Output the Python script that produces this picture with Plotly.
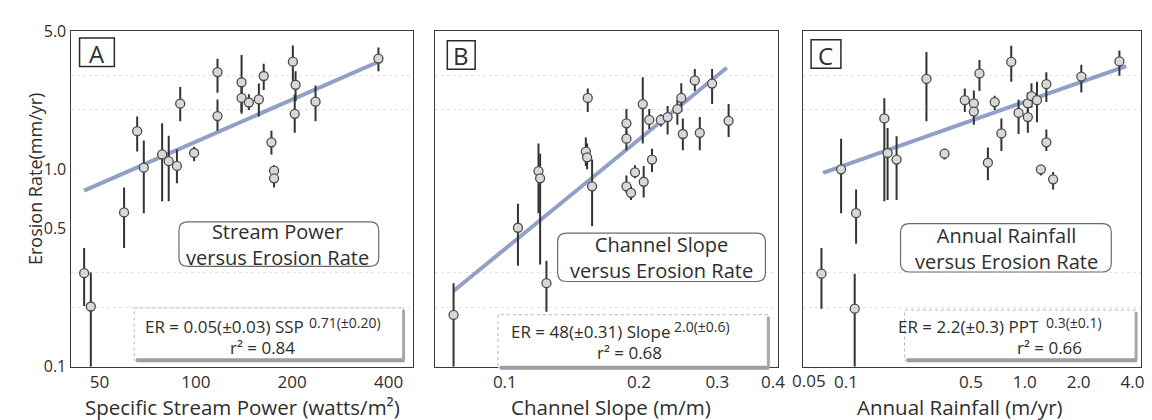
import plotly.graph_objects as go
import numpy as np

W, H = 1152, 420

# ---------------- Panel A: specific stream power ----------------
A_ssp = [65.6, 68.8, 78.5, 82.3, 87.3, 89.4, 98.8, 116.9, 116.9, 139, 139, 146.5, 157.4, 163,
         172.3, 175.6, 175.6, 201, 205, 203.7, 236.6, 372, 59.7, 44.8, 47.0]
A_er = [1.56, 1.02, 1.19, 1.10, 1.04, 2.15, 1.21, 3.11, 1.86, 2.76, 2.30, 2.18, 2.26, 2.97,
        1.37, 0.985, 0.90, 3.51, 2.68, 1.91, 2.20, 3.64, 0.605, 0.298, 0.202]
A_hi = [1.85, 1.40, 1.71, 1.48, 1.26, 2.61, 1.30, 3.63, 2.26, 3.79, 2.76, 2.40, 2.72, 3.43,
        1.57, 1.05, 1.02, 4.24, 3.14, 2.39, 2.66, 4.14, 0.81, 0.40, 0.30]
A_lo = [1.23, 0.60, 0.69, 0.69, 0.85, 1.75, 1.10, 2.44, 1.57, 1.91, 1.95, 2.00, 1.85, 2.52,
        1.19, 0.95, 0.81, 2.75, 2.21, 1.53, 1.75, 3.14, 0.40, 0.203, 0.10]
A_fit_x = [44.8, 383]
A_fit_y = [0.78, 3.58]

# ---------------- Panel B: channel slope ----------------
B_slope = [0.1535, 0.152, 0.153, 0.119, 0.120, 0.157, 0.107, 0.124, 0.0767, 0.1875, 0.1875,
           0.1875, 0.192, 0.196, 0.204, 0.205, 0.211, 0.214, 0.224, 0.232, 0.244, 0.249,
           0.251, 0.267, 0.274, 0.292, 0.318]
B_er = [2.30, 1.23, 1.15, 0.98, 0.90, 0.82, 0.506, 0.265, 0.183, 1.71, 1.43,
        0.82, 0.76, 0.966, 2.14, 0.865, 1.78, 1.12, 1.78, 1.84, 2.02, 2.30,
        1.51, 2.82, 1.53, 2.72, 1.76]
B_hi = [2.57, 1.45, 1.35, 1.35, 1.20, 1.12, 0.67, 0.344, 0.265, 2.02, 1.56,
        0.93, 0.82, 1.05, 2.93, 1.04, 2.02, 1.27, 1.90, 2.09, 2.24, 2.73,
        1.81, 3.22, 1.84, 3.22, 2.14]
B_lo = [1.95, 1.04, 1.00, 0.60, 0.33, 0.515, 0.325, 0.19, 0.10, 1.51, 1.25,
        0.76, 0.70, 0.90, 1.35, 0.72, 1.60, 0.97, 1.65, 1.50, 1.68, 1.95,
        1.25, 2.49, 1.25, 2.14, 1.46]
B_fit_x = [0.0767, 0.315]
B_fit_y = [0.242, 3.27]

# ---------------- Panel C: annual rainfall ----------------
C_ppt = [0.094, 0.073, 0.114, 0.112, 0.164, 0.171, 0.192, 0.282, 0.356, 0.462, 0.519, 0.519,
         0.558, 0.622, 0.679, 0.740, 0.840, 0.923, 1.04, 1.04, 1.09, 1.17, 1.32, 1.32, 1.23,
         1.44, 2.07, 3.38]
C_er = [1.00, 0.296, 0.60, 0.197, 1.81, 1.21, 1.12, 2.87, 1.20, 2.24, 2.16, 1.96,
        3.06, 1.08, 2.19, 1.52, 3.50, 1.93, 2.16, 1.84, 2.35, 2.24, 2.70, 1.37, 1.00,
        0.89, 2.95, 3.52]
C_hi = [1.43, 0.40, 0.79, 0.296, 2.29, 1.62, 1.47, 3.93, 1.27, 2.57, 2.51, 2.10,
        3.58, 1.29, 2.36, 1.81, 4.23, 2.25, 2.45, 2.00, 2.73, 2.78, 3.10, 1.59, 1.05,
        0.97, 3.39, 4.00]
C_lo = [0.60, 0.197, 0.42, 0.10, 0.69, 0.70, 0.70, 1.75, 1.12, 1.95, 1.90, 1.68,
        2.49, 0.88, 2.00, 1.24, 2.78, 1.51, 1.95, 1.53, 2.05, 1.73, 2.19, 1.24, 0.93,
        0.79, 2.45, 2.98]
C_fit_x = [0.0745, 3.69]
C_fit_y = [0.96, 3.33]

# ticks
Y_ticks = [0.1, 0.5, 1.0, 5.0]
Y_ticktext = ["0.1", "0.5", "1.0", "5.0"]
A_ticks = [50, 100, 200, 400]
A_ticktext = ["50", "100", "200", "400"]
B_ticks = [0.1, 0.2, 0.3, 0.4]
B_ticktext = ["0.1", "0.2", "0.3", "0.4"]
C_ticks = [0.1, 0.5, 1.0, 2.0, 4.0]
C_ticktext = ["0.1", "0.5", "1.0", "2.0", "4.0"]

FONT = "Open Sans"
TXT = "#2e2e2e"
LINE_COL = "#8496c2"
MK_FILL = "#d8d8d8"
MK_EDGE = "#4a4a4a"


def px(x):
    return x / W


def py(y):
    return 1 - y / H


fig = go.Figure()

panels = [
    ("x", "y", A_ssp, A_er, A_hi, A_lo, A_fit_x, A_fit_y),
    ("x2", "y2", B_slope, B_er, B_hi, B_lo, B_fit_x, B_fit_y),
    ("x3", "y3", C_ppt, C_er, C_hi, C_lo, C_fit_x, C_fit_y),
]
for xa, ya, xs, ys, hi, lo, fx, fy in panels:
    ys_a = np.array(ys)
    fig.add_trace(go.Scatter(x=fx, y=fy, mode="lines", xaxis=xa, yaxis=ya,
                             line=dict(color=LINE_COL, width=4), opacity=0.9,
                             showlegend=False, hoverinfo="skip"))
    fig.add_trace(go.Scatter(
        x=xs, y=ys, mode="markers", xaxis=xa, yaxis=ya, showlegend=False,
        marker=dict(size=9, color=MK_FILL, line=dict(color=MK_EDGE, width=1.3)),
        error_y=dict(type="data", symmetric=False,
                     array=list(np.array(hi) - ys_a),
                     arrayminus=list(ys_a - np.array(lo)),
                     color="#333333", thickness=2, width=0),
    ))

# domains (pixels)
ytop, ybot = 13, 367
doms = {"": (63, 407), "2": (430, 775), "3": (800, 1140)}
xranges = {"": (1.609, 2.677), "2": (-1.156, -0.386), "3": (-1.239, 0.650)}
xticks = {"": (A_ticks, A_ticktext), "2": (B_ticks, B_ticktext), "3": (C_ticks, C_ticktext)}

axis_common = dict(showline=True, mirror=True, linecolor="#3a3a3a", linewidth=1.3,
                   ticks="", zeroline=False, showgrid=False,
                   tickfont=dict(family=FONT, size=17, color=TXT))
layout = {}
for k in ["", "2", "3"]:
    d0, d1 = doms[k]
    tv, tt = xticks[k]
    layout["xaxis" + k] = dict(axis_common, type="log", domain=[px(d0), px(d1)],
                               range=list(xranges[k]), tickvals=tv, ticktext=tt,
                               anchor="y" + k, ticklabelstandoff=0)
    layout["yaxis" + k] = dict(axis_common, type="log", domain=[py(ybot), py(ytop)],
                               range=[-1, np.log10(5.0)], tickvals=Y_ticks,
                               ticktext=Y_ticktext, anchor="x" + k,
                               showticklabels=(k == ""),
                               tickfont=dict(family=FONT, size=16, color=TXT),
                               minor=dict(tickvals=[0.2, 0.3, 2, 3], showgrid=True,
                                          gridcolor="#e4e4e4", griddash="dot", gridwidth=1))

shapes = []
annotations = []


def rrect(x0, y0, x1, y1, r=9):
    rx, ry = r, r
    pts = [
        f"M {px(x0 + rx)},{py(y0)}", f"L {px(x1 - rx)},{py(y0)}",
        f"Q {px(x1)},{py(y0)} {px(x1)},{py(y0 + ry)}", f"L {px(x1)},{py(y1 - ry)}",
        f"Q {px(x1)},{py(y1)} {px(x1 - rx)},{py(y1)}", f"L {px(x0 + rx)},{py(y1)}",
        f"Q {px(x0)},{py(y1)} {px(x0)},{py(y1 - ry)}", f"L {px(x0)},{py(y0 + ry)}",
        f"Q {px(x0)},{py(y0)} {px(x0 + rx)},{py(y0)}", "Z",
    ]
    return dict(type="path", path=" ".join(pts), xref="paper", yref="paper",
                fillcolor="white", line=dict(color="#6a6a6a", width=1.2), layer="above")


def eqbox(x0, y0, x1, y1):
    shapes.append(dict(type="rect", xref="paper", yref="paper", x0=px(x0), x1=px(x1),
                       y0=py(y1), y1=py(y0), fillcolor="white",
                       line=dict(color="#b5b5b5", width=1, dash="dot"), layer="above"))
    shapes.append(dict(type="line", xref="paper", yref="paper", x0=px(x0 + 2), x1=px(x1 + 1),
                       y0=py(y1), y1=py(y1), line=dict(color="#9d9d9d", width=4), layer="above"))
    shapes.append(dict(type="line", xref="paper", yref="paper", x0=px(x1), x1=px(x1),
                       y0=py(y0 + 2), y1=py(y1), line=dict(color="#a8a8a8", width=3), layer="above"))


def letterbox(x0, y0, x1, y1, letter):
    shapes.append(dict(type="rect", xref="paper", yref="paper", x0=px(x0), x1=px(x1),
                       y0=py(y1), y1=py(y0), fillcolor="white",
                       line=dict(color="#2a2a2a", width=1.5), layer="above"))
    annotations.append(dict(text=letter, xref="paper", yref="paper", x=px((x0 + x1) / 2),
                            y=py((y0 + y1) / 2 + 1), xanchor="center", yanchor="middle",
                            showarrow=False, font=dict(family=FONT, size=24, color=TXT)))


def text(t, x, y, size, anchor="center", angle=0):
    annotations.append(dict(text=t, xref="paper", yref="paper", x=px(x), y=py(y),
                            xanchor=anchor, yanchor="middle", showarrow=False, align="center",
                            textangle=angle, borderpad=0,
                            font=dict(family=FONT, size=size, color=TXT)))


# panel letters
letterbox(72, 20, 107, 50, "A")
letterbox(442, 23, 470, 53, "B")
letterbox(808, 22, 838, 52, "C")

# title boxes
shapes.append(rrect(172, 214, 373, 261))
text("Stream Power<br>versus Erosion Rate", 271, 238, 20)
shapes.append(rrect(553, 226, 762, 277))
text("Channel Slope<br>versus Erosion Rate", 657, 252, 20)
shapes.append(rrect(898, 216, 1110, 267))
text("Annual Rainfall<br>versus Erosion Rate", 1005, 242, 20)

# equation boxes: base text, raised exponent, and r² line
EQ, SUPF = 17, 14
eqbox(127, 305, 398, 360)
text("ER = 0.05(±0.03) SSP", 299, 325, EQ, anchor="right")
text("0.71(±0.20)", 302, 320, SUPF, anchor="left")
text("r² = 0.84", 256, 347, EQ)
eqbox(493, 312, 765, 368)
text("ER = 48(±0.31) Slope", 668, 330, EQ, anchor="right")
text("2.0(±0.6)", 669, 325, SUPF, anchor="left")
text("r² = 0.68", 625, 352, EQ)
eqbox(902, 307, 1135, 360)
text("ER = 2.2(±0.3) PPT", 1038, 325, EQ, anchor="right")
text("0.3(±0.1)", 1043, 320, SUPF, anchor="left")
text("r² = 0.66", 1048, 347, EQ)

# axis titles
text("Specific Stream Power (watts/m²)", 236, 409, 20.5)
text("Channel Slope (m/m)", 607, 409, 20.5)
text("Annual Rainfall (m/yr)", 958, 409, 20.5)
text("Erosion Rate(mm/yr)", 27, 169, 18, angle=-90)
# extra tick label printed left of panel C's axis start in the original
text("0.05", 806, 381, 17)

fig.update_layout(
    width=W, height=H, margin=dict(l=0, r=0, t=0, b=0),
    paper_bgcolor="white", plot_bgcolor="white",
    font=dict(family=FONT, color=TXT),
    shapes=shapes, annotations=annotations, showlegend=False,
    **layout,
)

fig.write_html("out.html")
